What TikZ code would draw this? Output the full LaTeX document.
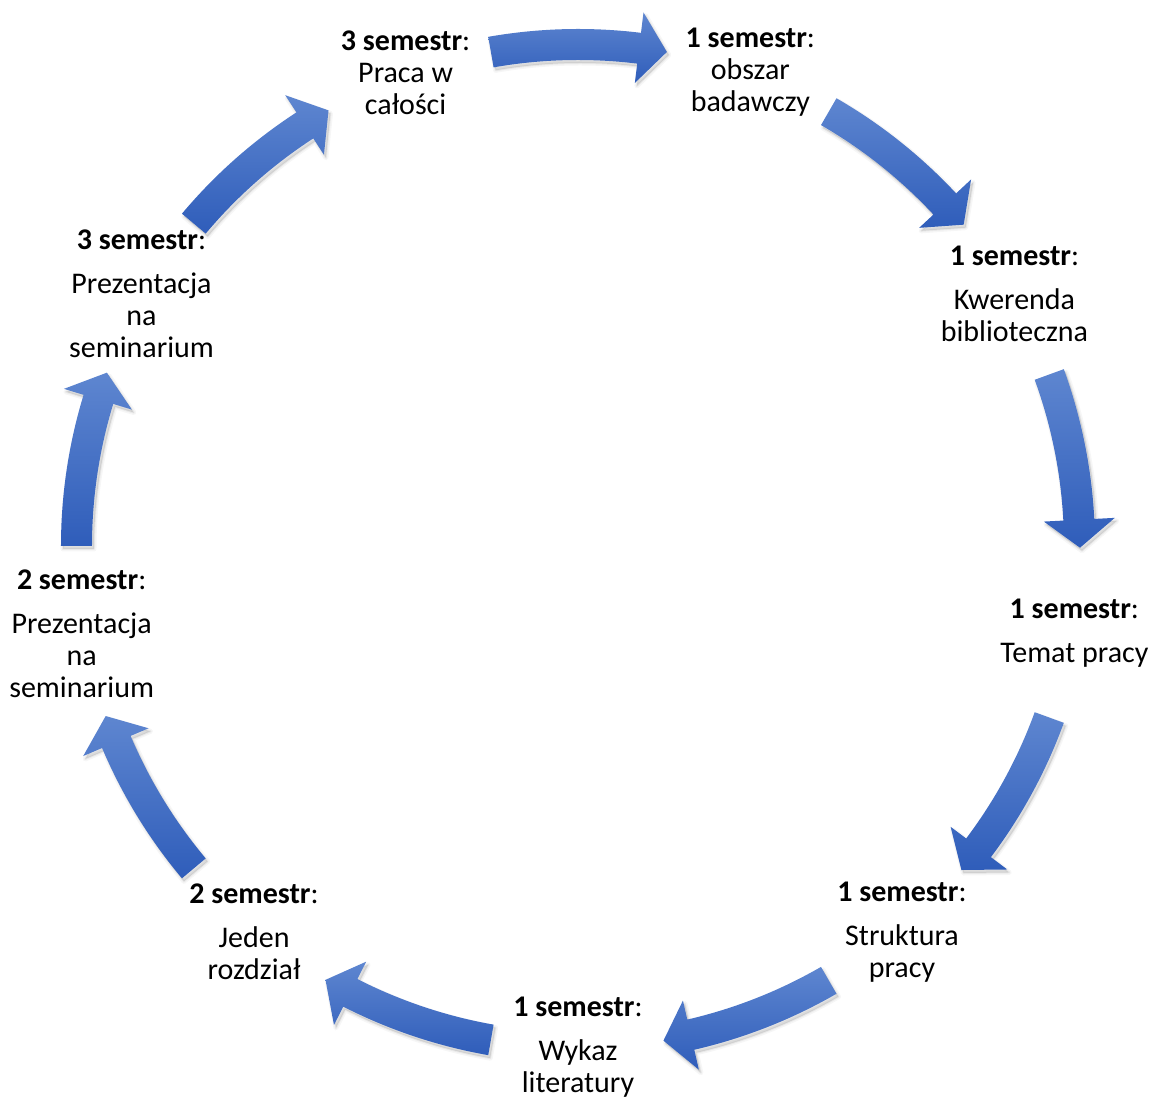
\documentclass[tikz,border=0pt]{standalone}
\usepackage{fontspec}
\setmainfont{Carlito}
\definecolor{arrtop}{RGB}{94,134,208}
\definecolor{arrmid}{RGB}{68,114,196}
\definecolor{arrbot}{RGB}{47,93,186}
\tikzset{
  lbl/.style={align=center, inner sep=0pt, font=\fontsize{30}{32}\selectfont},
  arrfill/.style={top color=arrtop, middle color=arrmid, bottom color=arrbot, draw=none},
  arrshadowA/.style={fill=black, fill opacity=0.05, draw=black, draw opacity=0.035, line width=5pt, line join=round, shift={(2,-3)}},
  arrshadowB/.style={fill=black, fill opacity=0.06, draw=black, draw opacity=0.05, line width=2pt, line join=round, shift={(2,-3)}},
}
\newcommand\cycarrowpath[1]{%
  (#1+10:517) arc[start angle=#1+10, end angle=#1-7, radius=517] -- (#1-7:537.5) -- (#1-10.2:502) -- (#1-7:466.5) -- (#1-7:486) arc[start angle=#1-7, end angle=#1+10, radius=486] -- cycle}
\begin{document}
\begin{tikzpicture}[x=1pt,y=1pt]
\useasboundingbox (-578,-554) rectangle (573,546);
% arrows
\foreach \m in {90,50,10,-30,-70,-110,-150,170,130}{
  \path[arrshadowA] \cycarrowpath{\m};
  \path[arrshadowB] \cycarrowpath{\m};
  \path[arrfill] \cycarrowpath{\m};
}
% labels
\node[lbl] (n1) at (110:504) {\textbf{3 semestr}:\\Praca w\\całości};
\node[lbl] (n2) at (70:504) {\textbf{1 semestr}:\\obszar\\badawczy};
\node[lbl] (n3) at (30:504) {\textbf{1 semestr}:\\[12pt]Kwerenda\\biblioteczna};
\node[lbl] (n4) at (-10:504) {\textbf{1 semestr}:\\[12pt]Temat pracy};
\node[lbl] (n5) at (-50:504) {\textbf{1 semestr}:\\[12pt]Struktura\\pracy};
\node[lbl] (n6) at (0,-501) {\textbf{1 semestr}:\\[12pt]Wykaz\\literatury};
\node[lbl] (n7) at (-130:504) {\textbf{2 semestr}:\\[12pt]Jeden\\rozdział};
\node[lbl] (n8) at (-170:504) {\textbf{2 semestr}:\\[12pt]Prezentacja\\na\\seminarium};
\node[lbl] (n9) at (150:504) {\textbf{3 semestr}:\\[12pt]Prezentacja\\na\\seminarium};
\end{tikzpicture}
\end{document}
